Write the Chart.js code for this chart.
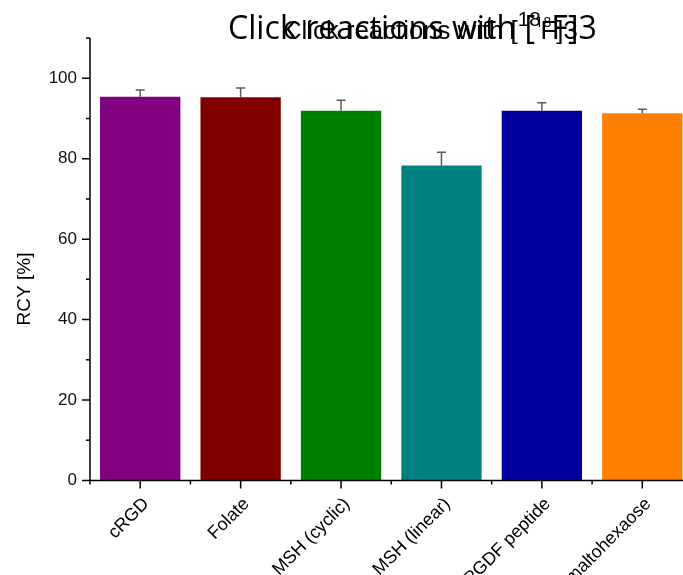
<!DOCTYPE html>
<html>
<head>
<meta charset="utf-8">
<script src="https://cdn.jsdelivr.net/npm/chart.js@4/dist/chart.umd.min.js"></script>
<style>
  html, body { margin: 0; padding: 0; background: #fff; overflow: hidden; width: 683px; height: 575px; }
  #wrap { position: absolute; left: 0; top: 0; width: 700px; height: 575px; }
</style>
</head>
<body>
<div id="wrap"><canvas id="c"></canvas></div>
<script>
// Radiochemical yields of the click reactions, mean and upper error (%)
const categories = ['cRGD', 'Folate', 'MSH (cyclic)', 'MSH (linear)', 'PGDF peptide', 'maltohexaose'];
const rcy = [95.4, 95.3, 91.9, 78.3, 91.9, 91.3];
const rcyError = [1.7, 2.3, 2.6, 3.3, 2.0, 1.0];
const barColors = ['#800080', '#800000', '#008000', '#008080', '#00009c', '#ff8000'];
const yMax = 110;
const yStep = 10;
const yLabelStep = 20;

const AXIS_FONT = '"Liberation Sans", Arial, sans-serif';

// width of a run of text pieces at a given scale
function richWidth(ctx, parts, family, k) {
  let w = 0;
  for (const p of parts) {
    ctx.font = (p.size * k) + 'px ' + family;
    w += ctx.measureText(p.text).width;
  }
  return w;
}

// draw a run of text pieces between x and xEnd, some raised as superscripts
function drawRich(ctx, x, xEnd, y, parts, family) {
  const k = (xEnd - x) / richWidth(ctx, parts, family, 1);
  let cx = x;
  for (const p of parts) {
    ctx.font = (p.size * k) + 'px ' + family;
    ctx.fillText(p.text, cx, y - (p.rise || 0));
    cx += ctx.measureText(p.text).width;
  }
}

const decorations = {
  id: 'decorations',
  afterDatasetsDraw(chart) {
    const { ctx, chartArea, scales: { x, y } } = chart;
    ctx.save();

    // error bars (upper only)
    ctx.strokeStyle = '#5a5a5a';
    ctx.lineWidth = 1.5;
    rcy.forEach((v, i) => {
      const px = x.getPixelForValue(i);
      const y0 = y.getPixelForValue(v);
      const y1 = y.getPixelForValue(v + rcyError[i]);
      ctx.beginPath();
      ctx.moveTo(px, y0);
      ctx.lineTo(px, y1);
      ctx.moveTo(px - 4.5, y1);
      ctx.lineTo(px + 4.5, y1);
      ctx.stroke();
    });

    // axes with outward major/minor ticks
    ctx.strokeStyle = '#000';
    ctx.lineWidth = 1.5;
    const x0 = chartArea.left;
    const yb = y.getPixelForValue(0);
    const half = (x.getPixelForValue(1) - x.getPixelForValue(0)) / 2;
    ctx.beginPath();
    ctx.moveTo(x0, y.getPixelForValue(yMax));
    ctx.lineTo(x0, yb);
    ctx.lineTo(chartArea.right, yb);
    for (let v = 0; v <= yMax; v += yStep) {
      const py = y.getPixelForValue(v);
      const len = v % yLabelStep === 0 ? 8 : 4;
      ctx.moveTo(x0 - len, py);
      ctx.lineTo(x0, py);
    }
    categories.forEach((c, i) => {
      const px = x.getPixelForValue(i);
      ctx.moveTo(px, yb);
      ctx.lineTo(px, yb + 8);
      ctx.moveTo(px - half, yb);
      ctx.lineTo(px - half, yb + 4);
    });
    ctx.stroke();

    // y axis title
    ctx.fillStyle = '#000';
    ctx.font = '19px ' + AXIS_FONT;
    ctx.textAlign = 'center';
    ctx.textBaseline = 'middle';
    ctx.translate(25, 289);
    ctx.rotate(-Math.PI / 2);
    ctx.fillText('RCY [%]', 0, 0);
    ctx.restore();

    // chart title, printed twice on top of itself
    ctx.save();
    ctx.fillStyle = '#000';
    ctx.textAlign = 'left';
    ctx.textBaseline = 'alphabetic';
    drawRich(ctx, 283, 578, 39, [
      { text: 'Click reactions with [', size: 20 },
      { text: '18', size: 16, rise: 13 },
      { text: 'F]3', size: 20 }
    ], AXIS_FONT);
    drawRich(ctx, 228, 597, 39, [
      { text: 'Click reactions with [', size: 27 },
      { text: '18', size: 12, rise: 12 },
      { text: 'F]3', size: 27 }
    ], '"Open Sans", "Noto Sans", sans-serif');
    ctx.restore();
  }
};

new Chart(document.getElementById('c'), {
  type: 'bar',
  data: {
    labels: categories,
    datasets: [{
      data: rcy,
      backgroundColor: barColors,
      borderWidth: 0,
      barPercentage: 0.8,
      categoryPercentage: 1.0
    }]
  },
  options: {
    responsive: true,
    maintainAspectRatio: false,
    animation: false,
    devicePixelRatio: 1,
    layout: { padding: { top: 38, right: 7.5, left: 0, bottom: 0 } },
    plugins: { legend: { display: false }, title: { display: false }, tooltip: { enabled: false } },
    scales: {
      x: {
        type: 'category',
        offset: true,
        grid: { display: false, drawTicks: false },
        border: { display: false },
        ticks: {
          color: '#000',
          font: { family: AXIS_FONT, size: 18 },
          minRotation: 45,
          maxRotation: 45,
          padding: 13,
          labelOffset: 6,
          autoSkip: false
        },
        afterFit(scale) { scale.height = 94.5; }
      },
      y: {
        min: 0,
        max: yMax,
        grid: { display: false, drawTicks: false },
        border: { display: false },
        ticks: {
          stepSize: yStep,
          color: '#111',
          font: { family: AXIS_FONT, size: 17 },
          padding: 13,
          callback: (v) => (v % yLabelStep === 0 ? v : '')
        },
        afterFit(scale) { scale.width = 90; }
      }
    }
  },
  plugins: [decorations]
});
</script>
</body>
</html>
